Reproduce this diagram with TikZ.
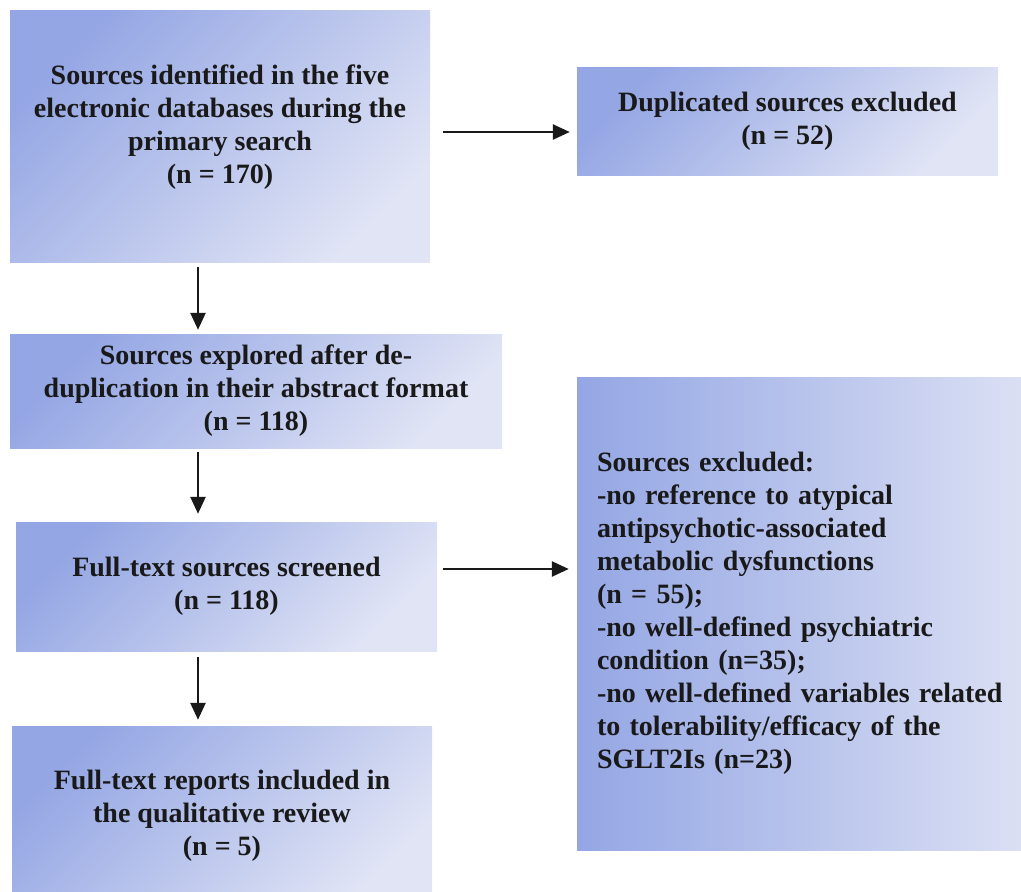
\documentclass[tikz,border=0pt]{standalone}
\usepackage{fontspec}
\setmainfont{Liberation Serif}
\usetikzlibrary{arrows.meta}
\definecolor{boxdark}{RGB}{148,166,228}
\definecolor{boxlight}{RGB}{224,228,245}
\definecolor{inkline}{RGB}{25,25,25}
\begin{document}
\begin{tikzpicture}[x=1pt,y=-1pt,
  every node/.style={font=\bfseries\fontsize{28}{33}\selectfont,text=inkline},
  flowbox/.style={rectangle,inner sep=0pt,align=center,top color=boxdark,bottom color=boxlight,shading angle=45},
  exclbox/.style={rectangle,inner ysep=0pt,inner xsep=20pt,align=left,text width=440pt,left color=boxdark,right color=boxlight},
  flowarrow/.style={-{Triangle[length=17pt,width=15pt]},line width=2.5pt,draw=inkline}]
  \useasboundingbox (0,0) rectangle (1021,892);
  \clip (0,0) rectangle (1021,892);
  \node[flowbox,minimum width=420pt,minimum height=252pt,text depth=23pt] (ident) at (220,136) {Sources identified in the five\\electronic databases during the\\primary search\\(n = 170)};
  \node[flowbox,minimum width=421pt,minimum height=108pt] (dupl) at (787.5,121) {Duplicated sources excluded\\(n = 52)};
  \node[flowbox,minimum width=492pt,minimum height=114pt] (explored) at (256,391) {Sources explored after de-\\duplication in their abstract format\\(n = 118)};
  \node[flowbox,minimum width=421pt,minimum height=129pt] (screened) at (226.5,586.5) {Full-text sources screened\\(n = 118)};
  \node[flowbox,minimum width=420pt,minimum height=179pt] (included) at (222,815.5) {Full-text reports included in\\the qualitative review\\(n = 5)};
  \node[exclbox,minimum height=473pt] (excluded) at (817,613.5) {Sources excluded:\\-no reference to atypical\\antipsychotic-associated\\metabolic dysfunctions\\(n = 55);\\-no well-defined psychiatric\\condition (n=35);\\-no well-defined variables related\\to tolerability/efficacy of the\\SGLT2Is (n=23)};
  % arrows
  \coordinate (spine) at (198,0);
  \coordinate (upper) at (0,132);
  \coordinate (lower) at (0,569);
  \draw[flowarrow,shorten <=5pt,shorten >=4pt] (ident.south -| spine) -- (explored.north -| spine);
  \draw[flowarrow,shorten <=4pt,shorten >=8pt] (explored.south -| spine) -- (screened.north -| spine);
  \draw[flowarrow,shorten <=6pt,shorten >=6pt] (screened.south -| spine) -- (included.north -| spine);
  \draw[flowarrow,shorten <=13pt,shorten >=7pt] (ident.east |- upper) -- (dupl.west |- upper);
  \draw[flowarrow,shorten <=6pt,shorten >=8pt] (screened.east |- lower) -- (excluded.west |- lower);
\end{tikzpicture}
\end{document}
